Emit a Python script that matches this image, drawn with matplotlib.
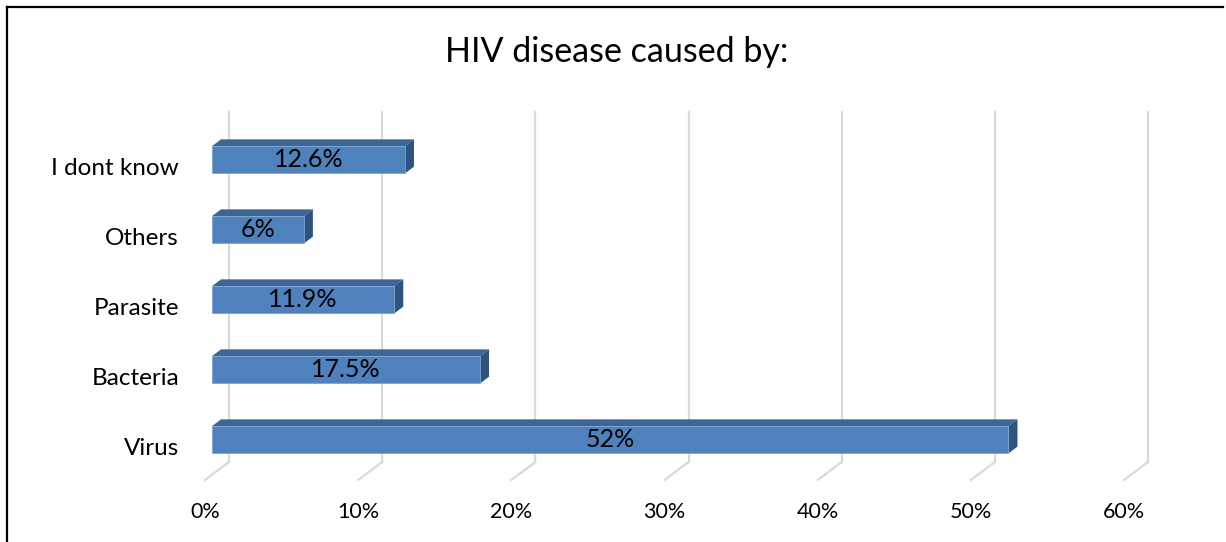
import numpy as np
import matplotlib
matplotlib.use("Agg")
import matplotlib.pyplot as plt
from matplotlib.patches import Polygon
from matplotlib.lines import Line2D

plt.rcParams['font.family'] = ['Lato', 'DejaVu Sans']

# data
categories = ['Virus', 'Bacteria', 'Parasite', 'Others', 'I dont know']
values = [52, 17.5, 11.9, 6, 12.6]
labels = ['52%', '17.5%', '11.9%', '6%', '12.6%']
ticks = [0, 10, 20, 30, 40, 50, 60]
tick_labels = ['0%', '10%', '20%', '30%', '40%', '50%', '60%']
title = 'HIV disease caused by:'

W, H = 1226, 542
fig = plt.figure(figsize=(W / 100, H / 100), dpi=100)

# axes = the plane of the bar front faces
ax = fig.add_axes([212 / W, (H - 474.75) / H, 919 / W, 350 / H])
ax.set_xlim(0, 60)
ax.set_ylim(-0.5, 4.5)
ax.axis('off')


def px_to_data(dx, dy):
    # convert a pixel offset into data units on this axes
    p0 = ax.transData.transform((0, 0))
    d = ax.transData.inverted().transform(p0 + np.array([dx, dy]))
    return d[0], d[1]


back_dx, back_dy = px_to_data(17, 12.75)    # back wall
front_dx, front_dy = px_to_data(-7, -5.25)  # front edge of floor
bar_dx, bar_dy = px_to_data(9, 6.75)        # bar depth

grid_col = '#D9D9D9'
y_floor, y_top = -0.5, 4.5

# gridlines on back wall + floor
for t in ticks:
    ax.add_line(Line2D([t + back_dx, t + back_dx], [y_floor + back_dy, y_top + back_dy],
                       color=grid_col, lw=1.6, zorder=1, clip_on=False))
    ax.add_line(Line2D([t + back_dx, t + front_dx], [y_floor + back_dy, y_floor + front_dy],
                       color=grid_col, lw=1.6, zorder=1, clip_on=False))

# bars
front_col = '#4F81BD'
top_col = '#3C6696'
side_col = '#2F5380'
h = 0.39
y = np.arange(len(categories))
ax.barh(y, values, height=h, left=0, color=front_col, edgecolor='#7FA3D0',
        linewidth=0.6, zorder=4, clip_on=False)
for yi, v in zip(y, values):
    yt = yi + h / 2
    yb = yi - h / 2
    top = Polygon([(0, yt), (v, yt), (v + bar_dx, yt + bar_dy), (bar_dx, yt + bar_dy)],
                  closed=True, facecolor=top_col, edgecolor='none', zorder=3, clip_on=False)
    side = Polygon([(v, yb), (v, yt), (v + bar_dx, yt + bar_dy), (v + bar_dx, yb + bar_dy)],
                   closed=True, facecolor=side_col, edgecolor='none', zorder=3, clip_on=False)
    ax.add_patch(top)
    ax.add_patch(side)

# data labels
for yi, v, lab in zip(y, values, labels):
    ax.text(v / 2, yi, lab, ha='center', va='center', fontsize=18, color='black', zorder=6)

# x tick labels
for t, lab in zip(ticks, tick_labels):
    ax.text(t + front_dx, y_floor + front_dy, lab, ha='center', va='center',
            fontsize=15.5, color='black', clip_on=False,
            transform=ax.transData + matplotlib.transforms.ScaledTranslation(0, -0.32, fig.dpi_scale_trans))

# category labels
for yi, cat in zip(y, categories):
    ax.text(0, yi, cat, ha='right', va='center', fontsize=17.5, color='black', clip_on=False,
            transform=ax.transData + matplotlib.transforms.ScaledTranslation(-0.33, -0.085, fig.dpi_scale_trans))

fig.text(617 / W, 1 - 52 / H, title, ha='center', va='center', fontsize=24.5, color='black')

# chart border (left and top visible)
fig.add_artist(Line2D([7 / W, 7 / W], [0, 1 - 7 / H], color='black', lw=1.6))
fig.add_artist(Line2D([7 / W, 1223 / W], [1 - 7 / H, 1 - 7 / H], color='black', lw=1.6))

fig.savefig('out.png', dpi=100)
